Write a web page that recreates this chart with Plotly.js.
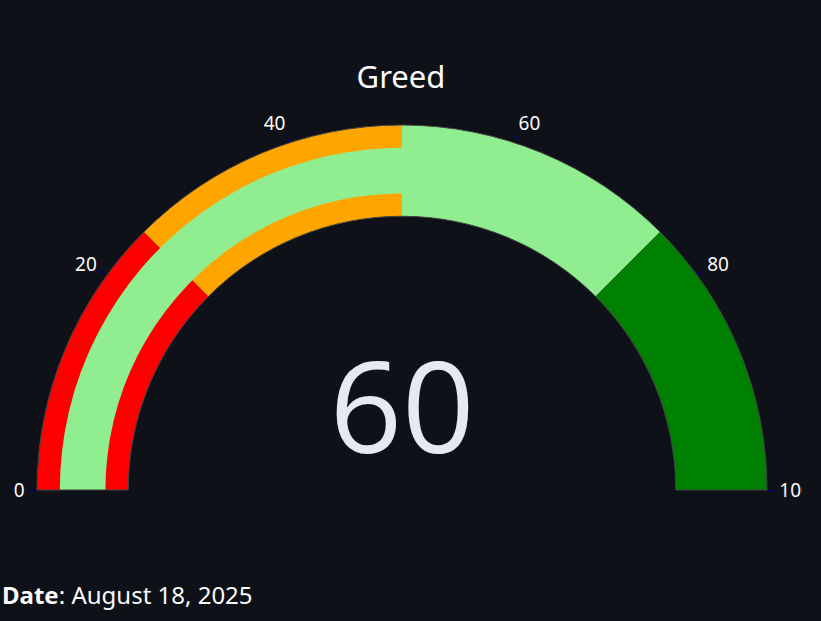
<!DOCTYPE html>
<html><head><meta charset="utf-8">
<script src="https://cdn.plot.ly/plotly-3.0.1.min.js"></script>
<style>html,body{margin:0;padding:0;background:#0e1117;}</style>
</head><body>
<div id="chart" style="width:802px;height:621px;"></div>
<script>
const gaugeValue = 60;
const gaugeTitle = "Greed";
const axisRange = [0, 100];
const stepRanges = [[0, 25], [25, 50], [50, 75], [75, 100]];
const stepColors = ["red", "orange", "lightgreen", "green"];
const barColor = "lightgreen";
const dateLabel = "August 18, 2025";

const data = [{
  type: "indicator",
  mode: "gauge+number",
  value: gaugeValue,
  number: {font: {color: "#e6e9f0", size: 127, family: "'Open Sans', sans-serif"}},
  domain: {x: [0, 1], y: [0, 1]},
  gauge: {
    axis: {range: axisRange, tickwidth: 1, ticklen: 8, tickcolor: "darkblue", tickfont: {color: "#fafafa", size: 19}},
    bar: {color: barColor, thickness: 0.5},
    bgcolor: "rgba(0,0,0,0)",
    borderwidth: 1,
    bordercolor: "#444",
    steps: stepRanges.map((r, i) => ({range: r, color: stepColors[i]}))
  }
}];

const layout = {
  width: 802, height: 621,
  paper_bgcolor: "#0e1117",
  plot_bgcolor: "#0e1117",
  font: {family: "'Noto Sans', sans-serif", color: "#fafafa"},
  title: {text: gaugeTitle, font: {size: 31, color: "#fafafa"}, x: 0.5, xref: "container", xanchor: "center", y: 1 - 77 / 621, yref: "container", yanchor: "middle"},
  margin: {l: 37, r: 35, t: 107.5, b: 113.5},
  annotations: [{
    text: "<b>Date</b>: " + dateLabel,
    xref: "paper", yref: "paper", x: -0.0504, y: -0.219,
    xanchor: "left", yanchor: "middle", showarrow: false,
    font: {size: 24, color: "#fafafa"}
  }]
};
Plotly.newPlot("chart", data, layout, {displayModeBar: false});
</script>
</body></html>
